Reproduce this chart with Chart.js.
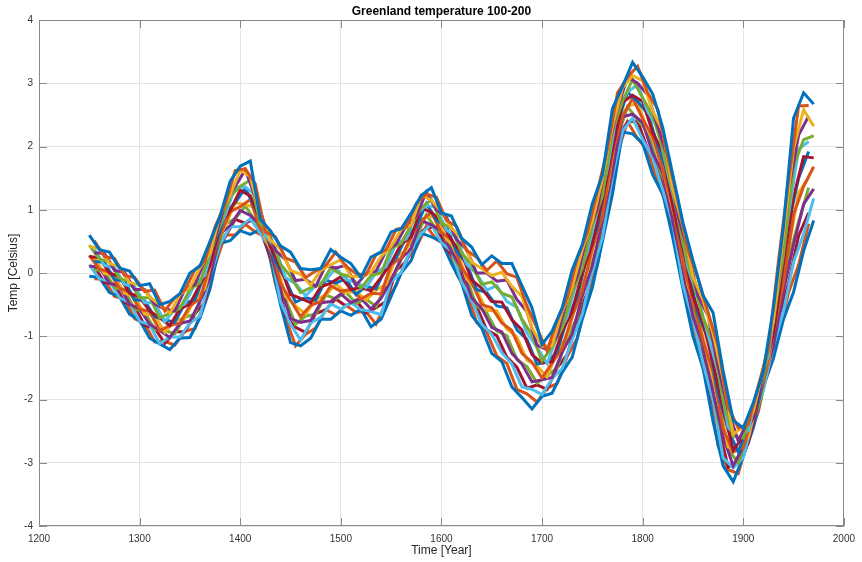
<!DOCTYPE html>
<html><head><meta charset="utf-8">
<script src="https://cdn.jsdelivr.net/npm/chart.js@4/dist/chart.umd.min.js"></script>
<style>html,body{margin:0;padding:0;background:#fff}#wrap{width:862px;height:562px}</style>
</head><body><div id="wrap"><canvas id="c" width="862" height="562"></canvas></div>
<script>
// ---------- data ----------
const titleText = 'Greenland temperature 100-200';
const xLabel = 'Time [Year]';
const yLabel = 'Temp [Celsius]';
const xTicks = [1200,1300,1400,1500,1600,1700,1800,1900,2000];
const yTicks = [-4,-3,-2,-1,0,1,2,3,4];

// ensemble members sampled on the decades
const years = [1250,1260,1270,1280,1290,1300,1310,1320,1330,1340,1350,1360,1370,1380,1390,1400,1410,1420,1430,1440,1450,1460,1470,1480,1490,1500,1510,1520,1530,1540,1550,1560,1570,1580,1590,1600,1610,1620,1630,1640,1650,1660,1670,1680,1690,1700,1710,1720,1730,1740,1750,1760,1770,1780,1790,1800,1810,1820,1830,1840,1850,1860,1870,1880,1890,1900,1910,1920,1930,1940,1950,1960,1970];
const member1 = [0.60,0.37,0.33,0.08,0.03,-0.20,-0.17,-0.50,-0.45,-0.33,0.00,0.11,0.50,0.90,1.45,1.69,1.77,0.85,0.67,0.43,0.33,0.07,0.05,0.07,0.37,0.25,0.15,-0.07,0.25,0.33,0.65,0.70,0.95,1.23,1.35,0.95,0.90,0.55,0.41,0.13,0.27,0.15,0.15,-0.20,-0.55,-1.13,-0.92,-0.55,0.05,0.45,1.10,1.55,2.60,2.95,3.33,3.10,2.83,2.30,1.55,0.80,0.20,-0.35,-0.63,-1.55,-2.33,-2.45,-2.05,-1.55,-0.55,0.75,2.45,2.85,2.67];
const member2 = [0.42,0.39,0.15,0.10,-0.15,-0.19,-0.38,-0.50,-0.64,-0.34,-0.23,0.08,0.31,0.92,1.23,1.63,1.52,0.91,0.52,0.38,0.04,-0.02,-0.19,0.04,0.13,0.21,-0.05,-0.06,0.01,0.26,0.42,0.69,0.76,1.23,1.15,0.97,0.71,0.54,0.17,0.07,-0.04,0.01,-0.21,-0.37,-0.86,-1.16,-1.15,-0.61,-0.23,0.37,0.82,1.49,2.32,2.93,3.12,3.04,2.56,2.24,1.32,0.74,-0.06,-0.43,-0.96,-1.68,-2.55,-2.43,-2.19,-1.50,-0.75,0.62,1.97,2.58,2.32];
const member3 = [0.44,0.22,0.18,-0.08,-0.14,-0.39,-0.39,-0.71,-0.64,-0.56,-0.26,-0.15,0.31,0.75,1.21,1.37,1.47,0.78,0.57,0.14,-0.05,-0.31,-0.23,-0.19,0.08,-0.02,-0.06,-0.24,-0.04,0.00,0.39,0.47,0.76,1.03,1.16,0.79,0.71,0.32,0.13,-0.18,-0.14,-0.32,-0.38,-0.73,-0.98,-1.39,-1.17,-0.87,-0.32,0.08,0.75,1.22,2.24,2.72,3.06,2.77,2.49,1.97,1.29,0.47,-0.11,-0.71,-1.09,-2.01,-2.58,-2.61,-2.14,-1.65,-0.75,0.30,1.69,2.11,2.17];
const member4 = [0.26,0.24,0.00,-0.06,-0.32,-0.38,-0.60,-0.71,-0.83,-0.57,-0.49,-0.18,0.12,0.77,0.99,1.31,1.22,0.84,0.42,0.09,-0.34,-0.40,-0.47,-0.22,-0.16,-0.06,-0.26,-0.23,-0.28,-0.07,0.16,0.46,0.57,1.03,0.96,0.81,0.52,0.31,-0.11,-0.24,-0.45,-0.46,-0.74,-0.90,-1.29,-1.42,-1.40,-0.93,-0.60,0.00,0.47,1.16,1.96,2.70,2.81,2.71,2.22,1.91,1.06,0.41,-0.37,-0.79,-1.42,-2.14,-2.80,-2.59,-2.28,-1.60,-0.95,0.17,1.21,1.84,1.82];
const member5 = [0.28,0.06,0.02,-0.24,-0.30,-0.57,-0.61,-0.91,-0.83,-0.79,-0.52,-0.41,0.13,0.60,0.97,1.05,1.16,0.70,0.48,-0.16,-0.43,-0.69,-0.51,-0.45,-0.20,-0.29,-0.26,-0.41,-0.32,-0.33,0.13,0.24,0.58,0.83,0.96,0.64,0.53,0.09,-0.15,-0.50,-0.55,-0.79,-0.91,-1.27,-1.41,-1.66,-1.42,-1.19,-0.68,-0.28,0.40,0.89,1.89,2.48,2.76,2.44,2.15,1.64,1.04,0.14,-0.43,-1.07,-1.56,-2.46,-2.83,-2.76,-2.22,-1.75,-0.95,-0.15,0.93,1.37,1.68];
const member6 = [0.11,0.09,-0.16,-0.21,-0.49,-0.57,-0.81,-0.91,-1.02,-0.80,-0.76,-0.45,-0.07,0.62,0.75,0.99,0.91,0.76,0.33,-0.21,-0.72,-0.78,-0.75,-0.47,-0.45,-0.33,-0.47,-0.40,-0.57,-0.40,-0.11,0.23,0.39,0.83,0.76,0.66,0.34,0.08,-0.39,-0.56,-0.86,-0.93,-1.27,-1.44,-1.72,-1.69,-1.65,-1.25,-0.96,-0.36,0.12,0.83,1.61,2.47,2.51,2.38,1.89,1.58,0.81,0.08,-0.69,-1.14,-1.89,-2.59,-3.05,-2.74,-2.36,-1.70,-1.15,-0.28,0.45,1.09,1.33];
const member7 = [0.13,-0.09,-0.13,-0.39,-0.47,-0.76,-0.82,-1.12,-1.01,-1.01,-0.79,-0.68,-0.06,0.45,0.73,0.73,0.86,0.63,0.38,-0.45,-0.81,-1.06,-0.79,-0.70,-0.49,-0.57,-0.47,-0.58,-0.61,-0.66,-0.14,0.01,0.39,0.63,0.77,0.48,0.34,-0.14,-0.43,-0.81,-0.97,-1.26,-1.44,-1.80,-1.84,-1.92,-1.67,-1.51,-1.05,-0.65,0.04,0.56,1.53,2.25,2.45,2.11,1.82,1.31,0.78,-0.19,-0.74,-1.42,-2.02,-2.92,-3.08,-2.92,-2.31,-1.85,-1.15,-0.60,0.17,0.62,1.18];
const member8 = [-0.05,-0.07,-0.31,-0.37,-0.65,-0.75,-1.03,-1.12,-1.21,-1.03,-1.02,-0.71,-0.25,0.47,0.51,0.67,0.61,0.69,0.23,-0.50,-1.10,-1.15,-1.03,-0.73,-0.73,-0.60,-0.67,-0.57,-0.85,-0.73,-0.37,0.00,0.20,0.63,0.57,0.50,0.15,-0.15,-0.67,-0.87,-1.27,-1.40,-1.80,-1.97,-2.15,-1.95,-1.90,-1.57,-1.33,-0.73,-0.23,0.50,1.25,2.23,2.20,2.05,1.55,1.25,0.55,-0.25,-1.00,-1.50,-2.35,-3.05,-3.30,-2.90,-2.45,-1.80,-1.35,-0.73,-0.30,0.35,0.83];

// ensemble members sampled on the half decades
const yearsHalf = [1255,1265,1275,1285,1295,1305,1315,1325,1335,1345,1355,1365,1375,1385,1395,1405,1415,1425,1435,1445,1455,1465,1475,1485,1495,1505,1515,1525,1535,1545,1555,1565,1575,1585,1595,1605,1615,1625,1635,1645,1655,1665,1675,1685,1695,1705,1715,1725,1735,1745,1755,1765,1775,1785,1795,1805,1815,1825,1835,1845,1855,1865,1875,1885,1895,1905,1915,1925,1935,1945,1955,1965];
const member9  = [0.51,0.26,0.23,-0.04,-0.07,-0.29,-0.27,-0.60,-0.39,-0.27,0.05,0.19,0.73,1.08,1.62,1.65,1.41,0.65,0.57,0.24,0.17,-0.07,0.03,0.12,0.33,0.11,-0.01,-0.03,0.29,0.37,0.69,0.72,1.10,1.25,1.20,0.83,0.74,0.36,0.25,0.04,0.19,-0.01,-0.07,-0.52,-0.87,-1.23,-0.75,-0.39,0.23,0.64,1.29,1.96,2.85,3.10,3.27,2.85,2.59,1.83,1.15,0.37,-0.09,-0.62,-1.15,-2.12,-2.45,-2.39,-1.78,-1.19,0.19,1.46,2.64,2.65];
const member10 = [0.32,0.31,0.04,0.01,-0.26,-0.26,-0.49,-0.57,-0.60,-0.26,-0.18,0.20,0.54,1.11,1.37,1.63,1.20,0.74,0.36,0.21,-0.12,-0.10,-0.21,0.12,0.08,0.12,-0.20,-0.01,0.03,0.35,0.46,0.75,0.90,1.28,1.00,0.88,0.53,0.37,0.00,0.00,-0.13,-0.11,-0.42,-0.61,-1.14,-1.21,-1.00,-0.42,-0.05,0.60,1.02,1.93,2.61,3.10,3.00,2.82,2.32,1.82,0.92,0.35,-0.36,-0.68,-1.48,-2.16,-2.66,-2.32,-1.94,-1.12,-0.09,1.31,2.18,2.48];
const member11 = [0.37,0.12,0.09,-0.18,-0.22,-0.47,-0.47,-0.77,-0.57,-0.49,-0.18,-0.03,0.59,0.91,1.36,1.36,1.23,0.59,0.39,-0.07,-0.17,-0.36,-0.20,-0.11,0.08,-0.10,-0.15,-0.23,0.01,0.10,0.47,0.54,0.93,1.07,1.04,0.68,0.56,0.14,-0.01,-0.27,-0.20,-0.45,-0.54,-0.95,-1.17,-1.43,-1.00,-0.69,-0.10,0.33,0.99,1.65,2.61,2.86,2.98,2.55,2.29,1.57,0.93,0.09,-0.39,-0.98,-1.57,-2.44,-2.62,-2.49,-1.86,-1.30,-0.12,0.92,1.96,2.08];
const member12 = [0.18,0.17,-0.10,-0.13,-0.42,-0.44,-0.69,-0.74,-0.78,-0.48,-0.42,-0.01,0.40,0.94,1.11,1.34,1.02,0.68,0.18,-0.10,-0.46,-0.39,-0.43,-0.11,-0.16,-0.09,-0.34,-0.21,-0.25,0.08,0.24,0.57,0.73,1.10,0.84,0.73,0.35,0.15,-0.26,-0.31,-0.52,-0.55,-0.90,-1.05,-1.44,-1.41,-1.25,-0.72,-0.38,0.29,0.72,1.61,2.37,2.86,2.71,2.52,2.02,1.56,0.70,0.07,-0.65,-1.04,-1.90,-2.48,-2.83,-2.42,-2.03,-1.24,-0.39,0.77,1.50,1.92];
const member13 = [0.24,-0.01,-0.04,-0.32,-0.37,-0.65,-0.67,-0.94,-0.75,-0.71,-0.41,-0.24,0.45,0.74,1.11,1.08,1.04,0.54,0.22,-0.37,-0.52,-0.65,-0.42,-0.35,-0.17,-0.31,-0.29,-0.43,-0.27,-0.18,0.26,0.36,0.77,0.89,0.89,0.53,0.38,-0.09,-0.27,-0.59,-0.60,-0.89,-1.01,-1.38,-1.47,-1.64,-1.25,-0.99,-0.42,0.01,0.69,1.34,2.38,2.63,2.69,2.26,1.99,1.31,0.70,-0.19,-0.68,-1.35,-1.99,-2.75,-2.79,-2.59,-1.95,-1.41,-0.42,0.38,1.27,1.51];
const member14 = [0.05,0.04,-0.23,-0.27,-0.57,-0.62,-0.89,-0.91,-0.96,-0.70,-0.65,-0.22,0.26,0.77,0.86,1.06,0.83,0.63,0.01,-0.41,-0.81,-0.68,-0.65,-0.35,-0.41,-0.30,-0.48,-0.41,-0.53,-0.20,0.03,0.39,0.57,0.92,0.69,0.58,0.17,-0.08,-0.52,-0.63,-0.92,-0.99,-1.37,-1.48,-1.74,-1.62,-1.50,-1.02,-0.70,-0.03,0.42,1.30,2.14,2.63,2.42,2.23,1.72,1.30,0.47,-0.21,-0.94,-1.41,-2.32,-2.79,-3.00,-2.52,-2.11,-1.35,-0.69,0.23,0.81,1.35];
const member15 = [0.10,-0.15,-0.18,-0.46,-0.53,-0.83,-0.87,-1.11,-0.93,-0.93,-0.65,-0.45,0.31,0.57,0.85,0.79,0.86,0.48,0.04,-0.68,-0.86,-0.94,-0.64,-0.58,-0.41,-0.52,-0.43,-0.63,-0.55,-0.45,0.04,0.18,0.60,0.71,0.73,0.38,0.20,-0.31,-0.53,-0.90,-0.99,-1.33,-1.49,-1.82,-1.77,-1.84,-1.50,-1.29,-0.75,-0.30,0.39,1.02,2.14,2.39,2.40,1.96,1.69,1.05,0.48,-0.47,-0.97,-1.71,-2.41,-3.07,-2.96,-2.69,-2.03,-1.53,-0.72,-0.16,0.59,0.95];
const member16 = [-0.09,-0.10,-0.37,-0.41,-0.72,-0.80,-1.09,-1.08,-1.14,-0.92,-0.88,-0.44,0.12,0.60,0.60,0.77,0.65,0.57,-0.17,-0.71,-1.15,-0.97,-0.87,-0.58,-0.66,-0.51,-0.62,-0.61,-0.81,-0.47,-0.19,0.21,0.40,0.74,0.53,0.43,-0.01,-0.30,-0.78,-0.94,-1.31,-1.43,-1.84,-1.91,-2.04,-1.82,-1.75,-1.32,-1.03,-0.34,0.12,0.99,1.90,2.39,2.13,1.93,1.42,1.04,0.25,-0.49,-1.24,-1.77,-2.74,-3.11,-3.17,-2.62,-2.19,-1.46,-0.99,-0.31,0.13,0.78];

const decadeMembers = [member1,member2,member3,member4,member5,member6,member7,member8];
const halfMembers = [member9,member10,member11,member12,member13,member14,member15,member16];
const colors = ['#0072BD','#D95319','#EDB120','#7E2F8E','#77AC30','#4DBEEE','#A2142F'];

// ---------- chart ----------
const series = [];
decadeMembers.forEach((m, k) => {
  series.push(m.map((v, i) => ({ x: years[i], y: v })));
  series.push(halfMembers[k].map((v, i) => ({ x: yearsHalf[i], y: v })));
});
const datasets = series.map((pts, k) => ({
  label: 'member ' + (k + 1),
  data: pts,
  borderColor: colors[k % colors.length],
  borderWidth: 3,
  pointRadius: 0,
  tension: 0,
  fill: false
}));

const frame = {
  id: 'frame',
  beforeDatasetsDraw(chart) {
    const { ctx, chartArea: a, scales: { x, y } } = chart;
    ctx.save();
    ctx.strokeStyle = '#8a8a8a';
    ctx.lineWidth = 1;
    ctx.strokeRect(Math.round(a.left) + 0.5, Math.round(a.top) + 0.5,
                   Math.round(a.right - a.left) - 1, Math.round(a.bottom - a.top) - 1);
    ctx.beginPath();
    xTicks.forEach(v => {
      const px = Math.round(x.getPixelForValue(v)) + 0.5;
      ctx.moveTo(px, a.bottom); ctx.lineTo(px, a.bottom - 8);
      ctx.moveTo(px, a.top); ctx.lineTo(px, a.top + 8);
    });
    yTicks.forEach(v => {
      const py = Math.round(y.getPixelForValue(v)) + 0.5;
      ctx.moveTo(a.left, py); ctx.lineTo(a.left + 8, py);
      ctx.moveTo(a.right, py); ctx.lineTo(a.right - 8, py);
    });
    ctx.stroke();
    ctx.restore();
  },
  afterDraw(chart) {
    const { ctx, chartArea: a } = chart;
    const cx = (a.left + a.right) / 2;
    ctx.save();
    ctx.fillStyle = '#000';
    ctx.textAlign = 'center';
    ctx.textBaseline = 'middle';
    ctx.font = 'bold 12px "Liberation Sans", Arial, sans-serif';
    ctx.fillText(titleText, cx, 12);
    ctx.fillStyle = '#262626';
    ctx.font = '12px "Liberation Sans", Arial, sans-serif';
    ctx.fillText(xLabel, cx, 551);
    ctx.translate(14, (a.top + a.bottom) / 2);
    ctx.rotate(-Math.PI / 2);
    ctx.fillText(yLabel, 0, 0);
    ctx.restore();
  }
};

new Chart(document.getElementById('c'), {
  type: 'line',
  data: { datasets },
  options: {
    responsive: false,
    animation: false,
    devicePixelRatio: 1,
    layout: { autoPadding: false, padding: { left: 0, right: 10, top: 20, bottom: 0 } },
    plugins: { legend: { display: false }, tooltip: { enabled: false }, title: { display: false } },
    scales: {
      x: {
        type: 'linear', min: 1200, max: 2000,
        afterFit: s => { s.height = 36; },
        afterBuildTicks: s => { s.ticks = xTicks.map(v => ({ value: v })); },
        grid: { color: '#e4e4e4', drawTicks: false },
        border: { display: false },
        ticks: { padding: 7, maxRotation: 0, autoSkip: false, color: '#333',
                 callback: v => String(v),
                 font: { family: '"Liberation Sans", Arial, sans-serif', size: 10 } }
      },
      y: {
        type: 'linear', min: -4, max: 4,
        afterFit: s => { s.width = 39; },
        afterBuildTicks: s => { s.ticks = yTicks.map(v => ({ value: v })); },
        grid: { color: '#e4e4e4', drawTicks: false },
        border: { display: false },
        ticks: { padding: 6, color: '#333',
                 callback: v => String(v),
                 font: { family: '"Liberation Sans", Arial, sans-serif', size: 10 } }
      }
    }
  },
  plugins: [frame]
});
</script>
</body></html>
